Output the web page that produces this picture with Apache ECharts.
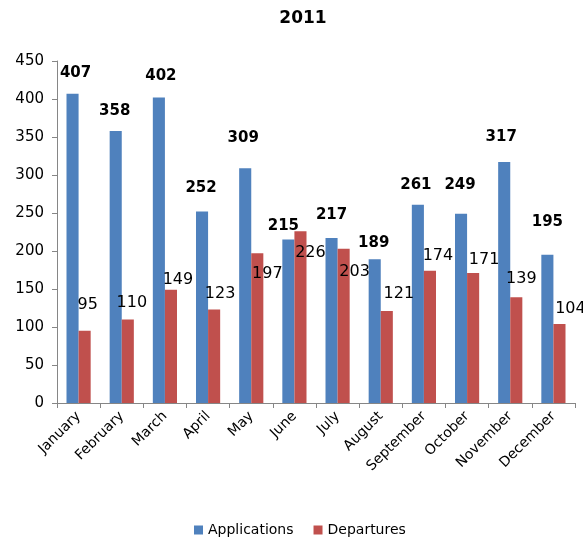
<!DOCTYPE html>
<html>
<head>
<meta charset="utf-8">
<script src="https://cdn.jsdelivr.net/npm/echarts@6/dist/echarts.min.js"></script>
<style>
  html, body { margin: 0; padding: 0; background: #fff; }
  #chart { width: 583px; height: 539px; }
</style>
</head>
<body>
<div id="chart"></div>
<script>
var months = ['January', 'February', 'March', 'April', 'May', 'June', 'July',
    'August', 'September', 'October', 'November', 'December'];
var applications = [407, 358, 402, 252, 309, 215, 217, 189, 261, 249, 317, 195];
var departures = [95, 110, 149, 123, 197, 226, 203, 121, 174, 171, 139, 104];

// hand-placed data labels in the original: nudge [dx, dy] from the bar's top centre
var appsLabelShift = [[3, -21], [-1, -20], [2, -21], [-1, -23], [-2, -30], [-5, -13],
    [0, -23], [-1, -16], [-2, -20], [-1, -29], [-3, -25], [0, -33]];
var depLabelShift = [[3, -26], [4, -17], [7, -10], [6, -16], [10, 21], [10, 22],
    [11, 23], [12, -17], [8, -15], [11, -13], [5, -19], [11, -15]];

var myChart = echarts.init(document.getElementById('chart'));
var font = '"DejaVu Sans", sans-serif';

function withLabels(values, shifts) {
    return values.map(function (v, i) {
        return { value: v, label: { offset: shifts[i] } };
    });
}

var option = {
    animation: false,
    textStyle: { fontFamily: font },
    title: {
        text: '2011',
        left: 298,
        textAlign: 'center',
        top: 5,
        textStyle: { fontSize: 17, fontWeight: 'bold', color: '#000', fontFamily: font }
    },
    legend: {
        top: 518,
        left: 189,
        itemWidth: 9,
        itemHeight: 9,
        itemGap: 20,
        icon: 'rect',
        textStyle: { fontSize: 14, color: '#000', fontFamily: font },
        data: ['Applications', 'Departures']
    },
    grid: { left: 57, right: 8, top: 61, bottom: 136 },
    xAxis: {
        type: 'category',
        data: months,
        axisLine: { lineStyle: { color: '#868686' } },
        axisTick: { show: true, length: 5, lineStyle: { color: '#868686' } },
        axisLabel: { rotate: 45, fontSize: 14, color: '#000', interval: 0, margin: 11 }
    },
    yAxis: {
        type: 'value',
        min: 0,
        max: 450,
        interval: 50,
        splitLine: { show: false },
        axisLine: { show: true, lineStyle: { color: '#868686' } },
        axisTick: { show: true, length: 5, lineStyle: { color: '#868686' } },
        axisLabel: { fontSize: 15, color: '#000', margin: 13 }
    },
    series: [
        {
            name: 'Applications',
            type: 'bar',
            data: withLabels(applications, appsLabelShift),
            barGap: '0%',
            barCategoryGap: '44%',
            itemStyle: { color: '#4F81BD' },
            label: {
                show: true,
                position: 'top',
                distance: 0,
                align: 'center',
                verticalAlign: 'middle',
                fontSize: 15,
                fontWeight: 'bold',
                color: '#000'
            }
        },
        {
            name: 'Departures',
            type: 'bar',
            data: withLabels(departures, depLabelShift),
            itemStyle: { color: '#C0504D' },
            label: {
                show: true,
                position: 'top',
                distance: 0,
                align: 'center',
                verticalAlign: 'middle',
                fontSize: 16,
                color: '#000'
            }
        }
    ]
};
myChart.setOption(option);
</script>
</body>
</html>
